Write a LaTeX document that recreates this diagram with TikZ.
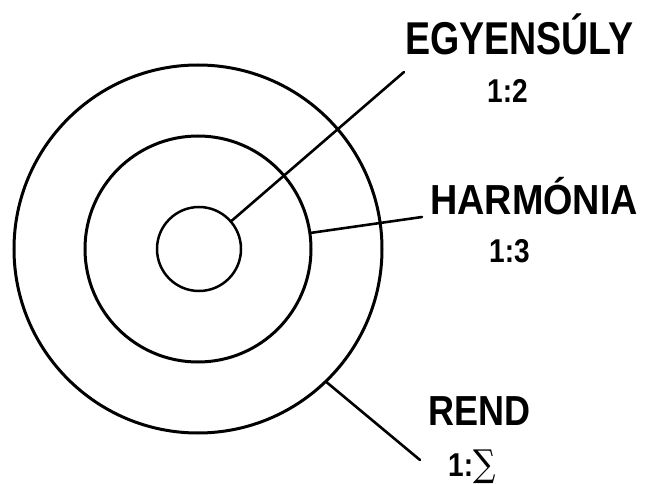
\documentclass[tikz,border=0pt]{standalone}
\usepackage{fontspec}
\setmainfont{Liberation Sans}
\newfontfamily\symf{DejaVu Serif}
\usepackage{graphicx}
\begin{document}
\begin{tikzpicture}[x=1pt,y=-1pt, line cap=round,
  ring/.style={circle, draw, line width=3pt, inner sep=0pt},
  conn/.style={line width=2.6pt},
  lbl/.style={anchor=base west, inner sep=0pt, font=\bfseries}]
\useasboundingbox (0,0) rectangle (649,484);
\node[ring, minimum size=368pt] (outer) at (198,249) {};
\node[ring, minimum size=226pt] (middle) at (198,249) {};
\node[ring, line width=2.5pt, minimum size=84pt] (inner) at (199,249) {};
% labels
\node[lbl] (t1) at (405,55) {\fontsize{46}{46}\selectfont\scalebox{0.817}[1]{EGYENSÚLY}};
\node[lbl] (r1) at (487,103) {\fontsize{33}{33}\selectfont\scalebox{0.85}[1]{1:2}};
\node[lbl] (t2) at (430,215) {\fontsize{42}{42}\selectfont\scalebox{0.90}[1]{HARMÓNIA}};
\node[lbl] (r2) at (489,263) {\fontsize{33}{33}\selectfont\scalebox{0.85}[1]{1:3}};
\node[lbl] (t3) at (428,425) {\fontsize{42}{42}\selectfont\scalebox{0.857}[1]{REND}};
\node[lbl] (r3) at (448,476) {\fontsize{33}{33}\selectfont\scalebox{0.85}[1]{1:}{\symf\mdseries\fontsize{37}{37}\selectfont\scalebox{0.85}[1]{∑}}};
% connectors
\coordinate (e1) at (404,72);
\coordinate (e2) at (422,217);
\coordinate (e3) at (420,460);
\draw[conn] (e1) -- (inner);
\draw[conn] (e2) -- (middle);
\draw[conn] (outer.-46) -- (e3);
\end{tikzpicture}
\end{document}
